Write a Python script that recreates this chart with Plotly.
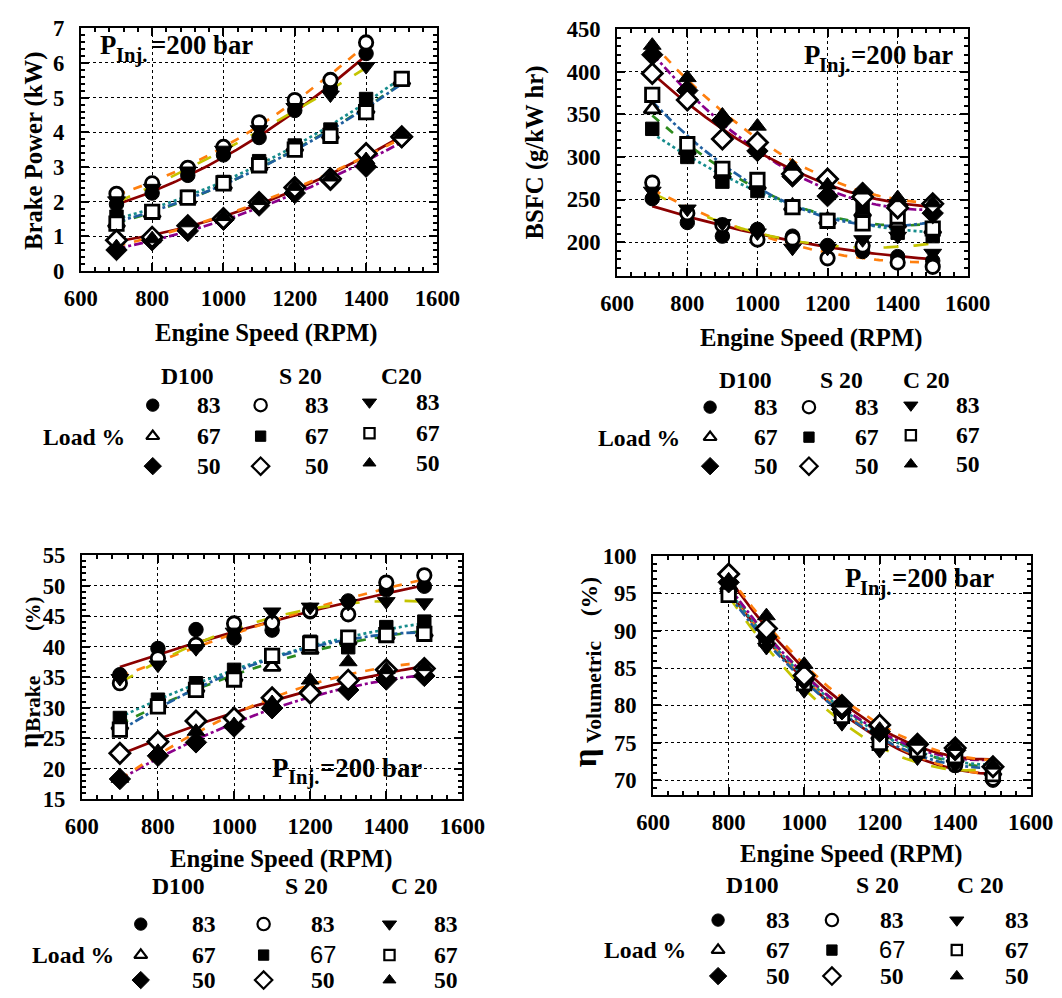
import numpy as np
import plotly.graph_objects as go

# Figure geometry. All positions below are given in the 1062x998 picture's
# pixels and converted to page pixels with the measured page->picture mapping
# (picture = S * (page + A)).
OFF = 8
FW, FH = 1077, 995
SX, AX = 0.964, 17.0
SY, AY = 0.975, 12.3
K = 1.03  # size compensation for the mapping scale
SERIF = "Liberation Serif"
SANS = "Liberation Sans"

# ---------------- data ----------------
rpm = [700, 800, 900, 1000, 1100, 1200, 1300, 1400, 1500]
rpm_to1400 = [700, 800, 900, 1000, 1100, 1200, 1300, 1400]
rpm_vol = [800, 900, 1000, 1100, 1200, 1300, 1400, 1500]

fuels = ["D100", "S 20", "C20"]
fuels_b = ["D100", "S 20", "C 20"]
loads = ["83", "67", "50"]

# Brake power (kW)
bp_d100_83 = [1.93, 2.25, 2.76, 3.35, 3.85, 4.63, 5.26, 6.27]
bp_s20_83 = [2.23, 2.53, 2.98, 3.58, 4.29, 4.93, 5.51, 6.59]
bp_c20_83 = [2.03, 2.39, 2.89, 3.49, 4.08, 4.72, 5.08, 5.90]
bp_d100_67 = [1.39, 1.66, 2.07, 2.48, 3.03, 3.58, 3.94, 4.67, 5.49]
bp_s20_67 = [1.57, 1.71, 2.14, 2.57, 3.17, 3.62, 4.08, 4.96, 5.54]
bp_c20_67 = [1.37, 1.71, 2.12, 2.53, 3.05, 3.50, 3.90, 4.58, 5.54]
bp_d100_50 = [0.61, 0.89, 1.16, 1.48, 1.89, 2.25, 2.62, 3.01, 3.85]
bp_s20_50 = [0.89, 0.98, 1.31, 1.52, 1.98, 2.41, 2.66, 3.39, 3.87]
bp_c20_50 = [0.70, 0.93, 1.39, 1.57, 2.03, 2.44, 2.71, 3.21, 3.94]

# BSFC (g/kW hr)
bsfc_d100_83 = [251, 223, 207, 215, 207, 196, 189, 183, 178]
bsfc_s20_83 = [270, 234, 220, 203, 204, 181, 196, 176, 171]
bsfc_c20_83 = [260, 239, 222, 211, 193, 193, 203, 207, 187]
bsfc_d100_67 = [356, 308, 280, 267, 242, 226, 235, 222, 215]
bsfc_s20_67 = [333, 300, 271, 260, 241, 226, 240, 211, 207]
bsfc_c20_67 = [373, 315, 286, 273, 241, 225, 222, 230, 216]
bsfc_d100_50 = [420, 378, 343, 307, 277, 254, 258, 243, 234]
bsfc_s20_50 = [398, 367, 321, 317, 280, 274, 253, 240, 245]
bsfc_c20_50 = [431, 393, 349, 336, 289, 267, 261, 252, 246]

# Brake thermal efficiency (%)
eb_d100_83 = [35.4, 39.7, 42.8, 41.4, 42.7, 45.7, 47.5, 49.3, 49.9]
eb_s20_83 = [34.0, 38.1, 40.3, 43.8, 43.9, 45.9, 45.3, 50.5, 51.7]
eb_c20_83 = [34.8, 37.0, 39.7, 42.4, 45.7, 46.5, 47.1, 47.4, 47.2]
eb_d100_67 = [27.1, 30.7, 33.2, 35.0, 36.7, 39.5, 41.1, 41.9, 42.3]
eb_s20_67 = [28.3, 31.3, 34.0, 36.2, 38.6, 40.8, 39.9, 43.2, 44.1]
eb_c20_67 = [26.4, 30.2, 32.9, 34.6, 38.5, 40.5, 41.5, 41.9, 42.1]
eb_d100_50 = [18.3, 22.1, 24.3, 26.9, 29.9, 32.6, 32.9, 34.6, 35.2]
eb_s20_50 = [22.5, 24.4, 27.8, 28.3, 31.6, 32.4, 34.5, 36.2, 36.4]
eb_c20_50 = [18.4, 22.8, 26.1, 27.2, 30.8, 34.5, 37.5, 36.2, 36.7]

# Volumetric efficiency (%)
ev_d100_83 = [95.8, 88.5, 82.8, 79.0, 75.2, 73.8, 72.3, 70.0]
ev_s20_83 = [95.2, 89.0, 83.2, 78.8, 75.5, 74.0, 72.0, 70.2]
ev_c20_83 = [94.8, 87.8, 82.0, 77.6, 74.0, 73.0, 72.0, 71.0]
ev_d100_67 = [96.0, 89.5, 84.0, 79.5, 76.0, 74.5, 73.0, 71.2]
ev_s20_67 = [95.5, 89.2, 83.5, 79.2, 76.2, 74.2, 73.2, 71.5]
ev_c20_67 = [94.8, 89.0, 83.0, 78.6, 75.0, 74.0, 73.2, 70.8]
ev_d100_50 = [96.5, 89.2, 83.5, 79.5, 76.5, 74.8, 74.0, 71.8]
ev_s20_50 = [97.6, 90.3, 84.0, 80.0, 77.4, 74.8, 74.3, 71.8]
ev_c20_50 = [96.8, 92.0, 85.5, 80.3, 76.8, 75.2, 74.5, 72.0]

# ---------------- styles ----------------
ORDER = ["d100_83", "s20_83", "c20_83", "d100_67", "s20_67", "c20_67",
         "d100_50", "s20_50", "c20_50"]
STYLE = {
    "d100_83": dict(sym="circle", filled=True, lc="#8B0000", dash="solid", ms=14),
    "s20_83": dict(sym="circle", filled=False, lc="#FF7F0E", dash="dash", ms=13),
    "c20_83": dict(sym="triangle-down", filled=True, lc="#C4C400", dash="longdash", ms=15),
    "d100_67": dict(sym="triangle-up", filled=False, lc="#2E8B1E", dash="dash", ms=14),
    "s20_67": dict(sym="square", filled=True, lc="#168C8C", dash="dot", ms=13),
    "c20_67": dict(sym="square", filled=False, lc="#1F5FA0", dash="dashdot", ms=13),
    "d100_50": dict(sym="diamond", filled=True, lc="#8B008B", dash="dashdot", ms=16),
    "s20_50": dict(sym="diamond", filled=False, lc="#8B0000", dash="solid", ms=15),
    "c20_50": dict(sym="triangle-up", filled=True, lc="#FF7F0E", dash="dash", ms=15),
}

PANELS = [
    dict(ax="", x={"83": rpm_to1400, "67": rpm, "50": rpm},
         y={"d100_83": bp_d100_83, "s20_83": bp_s20_83, "c20_83": bp_c20_83,
            "d100_67": bp_d100_67, "s20_67": bp_s20_67, "c20_67": bp_c20_67,
            "d100_50": bp_d100_50, "s20_50": bp_s20_50, "c20_50": bp_c20_50}),
    dict(ax="2", x={"83": rpm, "67": rpm, "50": rpm},
         y={"d100_83": bsfc_d100_83, "s20_83": bsfc_s20_83, "c20_83": bsfc_c20_83,
            "d100_67": bsfc_d100_67, "s20_67": bsfc_s20_67, "c20_67": bsfc_c20_67,
            "d100_50": bsfc_d100_50, "s20_50": bsfc_s20_50, "c20_50": bsfc_c20_50}),
    dict(ax="3", x={"83": rpm, "67": rpm, "50": rpm},
         y={"d100_83": eb_d100_83, "s20_83": eb_s20_83, "c20_83": eb_c20_83,
            "d100_67": eb_d100_67, "s20_67": eb_s20_67, "c20_67": eb_c20_67,
            "d100_50": eb_d100_50, "s20_50": eb_s20_50, "c20_50": eb_c20_50}),
    dict(ax="4", x={"83": rpm_vol, "67": rpm_vol, "50": rpm_vol},
         y={"d100_83": ev_d100_83, "s20_83": ev_s20_83, "c20_83": ev_c20_83,
            "d100_67": ev_d100_67, "s20_67": ev_s20_67, "c20_67": ev_c20_67,
            "d100_50": ev_d100_50, "s20_50": ev_s20_50, "c20_50": ev_c20_50}),
]

fig = go.Figure()

def marker_cfg(st, size, lw=2.8):
    if st["filled"]:
        return dict(symbol=st["sym"], size=size * K, color="black",
                    line=dict(color="black", width=1))
    return dict(symbol=st["sym"], size=size * K, color="white",
                line=dict(color="black", width=lw))

# fitted trend lines first
for p in PANELS:
    for key in ORDER:
        st = STYLE[key]
        xs = np.array(p["x"][key.split("_")[1]], dtype=float)
        ys = np.array(p["y"][key], dtype=float)
        coef = np.polyfit(xs, ys, 2)
        xf = np.linspace(xs.min(), xs.max(), 80)
        fig.add_trace(go.Scatter(
            x=xf, y=np.polyval(coef, xf), mode="lines",
            line=dict(color=st["lc"], width=2.7, dash=st["dash"]),
            xaxis="x" + p["ax"], yaxis="y" + p["ax"], showlegend=False,
            hoverinfo="skip"))

# markers on top
for p in PANELS:
    for key in ORDER:
        st = STYLE[key]
        fig.add_trace(go.Scatter(
            x=p["x"][key.split("_")[1]], y=p["y"][key], mode="markers",
            marker=marker_cfg(st, st["ms"]), cliponaxis=False,
            xaxis="x" + p["ax"], yaxis="y" + p["ax"], showlegend=False))

# ---------------- coordinate helpers ----------------
def fx(R):
    return (R / SX - AX - OFF) / FW

def fy(R):
    return 1 - (R / SY - AY - OFF) / FH

FRAMES = [  # left, right, top, bottom (picture pixels)
    (80, 437, 28, 271),
    (617, 968, 29, 276),
    (81, 462, 555, 799),
    (653, 1031, 556, 795),
]
YRANGES = [(0, 7, 1, 0.2), (160, 450, 50, 10), (15, 55, 5, 1), (68, 100, 5, 1)]

tickfont = dict(family=SERIF, size=22 * K, color="black", weight="bold")
layout_axes = {}
for i, ((l, r, t, b), (y0, y1, dy, mdy)) in enumerate(zip(FRAMES, YRANGES)):
    suf = "" if i == 0 else str(i + 1)
    common = dict(ticks="inside", ticklen=8, tickwidth=1.5, tickcolor="black",
                  showline=True, linecolor="black", linewidth=2, mirror="ticks",
                  showgrid=True, gridcolor="black", griddash="dot", gridwidth=1,
                  zeroline=False, tickfont=tickfont, fixedrange=True)
    layout_axes["xaxis" + suf] = dict(
        domain=[fx(l), fx(r)], anchor="y" + suf, range=[600, 1600],
        tick0=600, dtick=200, ticklabelstandoff=6,
        minor=dict(ticks="inside", ticklen=4, tickcolor="black", tick0=600,
                   dtick=40, showgrid=False), **common)
    layout_axes["yaxis" + suf] = dict(
        domain=[fy(b), fy(t)], anchor="x" + suf, range=[y0, y1],
        tick0=0, dtick=dy, ticklabelstandoff=10,
        minor=dict(ticks="inside", ticklen=4, tickcolor="black", tick0=0,
                   dtick=mdy, showgrid=False), **common)

# overlay axis in picture pixels, used for the legend keys
layout_axes["xaxis5"] = dict(domain=[0, 1],
                             range=[SX * (OFF + AX), SX * (OFF + FW + AX)],
                             visible=False, fixedrange=True, anchor="y5")
layout_axes["yaxis5"] = dict(domain=[0, 1],
                             range=[SY * (OFF + FH + AY), SY * (OFF + AY)],
                             visible=False, fixedrange=True, anchor="x5")

# ---------------- legends (layout positions, picture pixels) ----------------
LEGENDS = [
    dict(mx=[152, 260, 369], lx=[208, 316, 428], ry=[405, 436, 466], cshift=[0, 0, -3],
         hx=[187, 300, 401], hy=376, names=fuels, load=(83, 437), sans67=False),
    dict(mx=[710, 809, 911], lx=[766, 867, 968], ry=[407, 437, 466], cshift=[0, 0, -2],
         hx=[745, 842, 927], hy=380, names=fuels_b, load=(639, 438), sans67=False),
    dict(mx=[140, 263, 389], lx=[203, 322, 446], ry=[924, 955, 980], cshift=[0, 0, 0],
         hx=[178, 306, 414], hy=886, names=fuels_b, load=(72, 955), sans67=True),
    dict(mx=[718, 832, 957], lx=[778, 892, 1017], ry=[920, 950, 976], cshift=[0, 0, 0],
         hx=[752, 878, 981], hy=885, names=fuels_b, load=(645, 950), sans67=True),
]
FUEL_KEYS = ["d100", "s20", "c20"]
annotations = []

def ann(text, x, y, size=23, family=SERIF, bold=True, angle=0, xanchor="center"):
    annotations.append(dict(
        text=text, x=fx(x), y=fy(y), xref="paper", yref="paper", showarrow=False,
        font=dict(family=family, size=size * K, color="black",
                  weight="bold" if bold else "normal"),
        textangle=angle, xanchor=xanchor, yanchor="middle"))

LEG_SIZE = {"circle": 12, "triangle-down": 12, "triangle-up": 11, "square": 10,
            "diamond": 13}
for key in ORDER:
    fk, ld = key.split("_")
    c = FUEL_KEYS.index(fk)
    r = loads.index(ld)
    st = STYLE[key]
    xs = [lg["mx"][c] for lg in LEGENDS]
    ys = [lg["ry"][r] + lg["cshift"][c] for lg in LEGENDS]
    fig.add_trace(go.Scatter(x=xs, y=ys, mode="markers",
                             marker=marker_cfg(st, LEG_SIZE[st["sym"]], lw=2.2),
                             xaxis="x5", yaxis="y5", showlegend=False,
                             cliponaxis=False, hoverinfo="skip"))

for lg in LEGENDS:
    for c in range(3):
        ann(lg["names"][c], lg["hx"][c], lg["hy"], size=23)
        for r in range(3):
            sans = lg["sans67"] and c == 1 and r == 1
            ann(loads[r], lg["lx"][c], lg["ry"][r] + lg["cshift"][c], size=23,
                family=SANS if sans else SERIF, bold=not sans)
    ann("Load %", lg["load"][0], lg["load"][1], size=23)

# axis titles
XT = [(265, 333), (811, 338), (280, 859), (851, 854)]
for (x, y) in XT:
    ann("Engine Speed (RPM)", x, y, size=24)
ann("Brake Power (kW)", 33, 150, size=24, angle=-90)
ann("BSFC (g/kW hr)", 535, 152, size=24, angle=-90)
# eta titles: symbol, subscript word and unit as separate rotated texts
ann("η", 28, 740, size=26, angle=-90)
ann("Brake", 32, 703, size=21, angle=-90)
ann("(%)", 32, 614, size=20, angle=-90)
ann("η", 585, 758, size=32, angle=-90)
ann("Volumetric", 594, 692, size=21, angle=-90)
ann("(%)", 589, 597, size=23, angle=-90)

# injection-pressure labels: "P", subscript "Inj." and "=200 bar"
PINJ_POS = [  # (P left, main y, Inj. left, sub y, rest left)
    (97, 45, 113, 55, 148),
    (802, 55, 817, 65, 849),
    (269, 768, 285, 777, 317),
    (843, 578, 858, 588, 890),
]
for (xp, ym, xs_, ys_, xr) in PINJ_POS:
    ann("P", xp, ym, size=26, xanchor="left")
    ann("Inj.", xs_, ys_, size=20, xanchor="left")
    ann("=200 bar", xr, ym, size=26, xanchor="left")

fig.update_layout(
    width=FW, height=FH, margin=dict(l=0, r=0, t=0, b=0),
    paper_bgcolor="white", plot_bgcolor="rgba(0,0,0,0)",
    showlegend=False, annotations=annotations, **layout_axes)

fig.write_html("out.html")
